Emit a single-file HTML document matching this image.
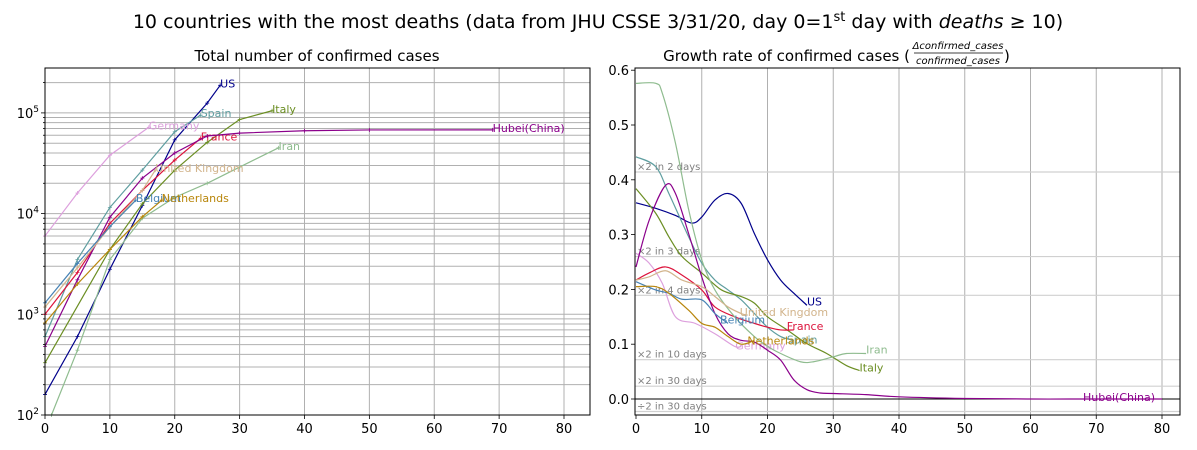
<!DOCTYPE html>
<html><head><meta charset="utf-8"><style>
body{margin:0;background:#fff;}
svg{display:block;font-family:"DejaVu Sans","Liberation Sans",sans-serif;}
</style></head><body>
<svg id="chart" width="1197" height="450" viewBox="0 0 1197 450" xmlns="http://www.w3.org/2000/svg">
<rect width="1197" height="450" fill="#fff"/>
<text x="598" y="28" font-size="19" text-anchor="middle">10 countries with the most deaths (data from JHU CSSE 3/31/20, day 0=1<tspan dy="-7" font-size="13">st</tspan><tspan dy="7"> day with </tspan><tspan font-style="italic">deaths</tspan> ≥ 10)</text>
<text x="317" y="61" font-size="15" text-anchor="middle">Total number of confirmed cases</text>
<g>
<text x="910" y="61" font-size="15" text-anchor="end">Growth rate of confirmed cases (</text>
<text x="958" y="49" font-size="10" font-style="italic" text-anchor="middle">Δconfirmed_cases</text>
<line x1="914" y1="53" x2="1003" y2="53" stroke="#000" stroke-width="0.8"/>
<text x="958" y="64" font-size="10" font-style="italic" text-anchor="middle">confirmed_cases</text>
<text x="1004" y="61" font-size="15">)</text>
</g>
<g id="left"></g>
<g id="right"></g>
</svg>
<script>
const countries = ["US","Spain","Italy","Germany","France","Hubei(China)","Iran","United Kingdom","Belgium","Netherlands"];
const colors = ["#00008b","#5f9ea0","#6b8e23","#dda0dd","#dc143c","#8b008b","#8fbc8f","#d2b48c","#4682b4","#b8860b"];
const caseDays = [
 [0,5,10,15,20,25,27],
 [0,5,10,15,20,24],
 [0,10,15,20,25,30,35],
 [0,5,10,16],
 [0,5,10,15,20,24],
 [0,5,10,15,20,25,30,40,50,69],
 [1,5,10,15,20,25,30,36],
 [0,5,10,15,17],
 [0,5,10,14],
 [0,5,10,15,18]
];
const caseValues = [
 [160,600,2800,12000,54000,125000,188000],
 [600,3500,11500,27000,65000,95000],
 [330,4400,12500,27000,51000,86000,105000],
 [6000,16000,38000,72000],
 [1000,2600,8000,17000,34000,56000],
 [480,2200,9200,22500,40000,59000,63000,66500,67700,67800],
 [100,440,3500,9000,14500,20000,29000,45000],
 [1180,2900,7400,17000,27000],
 [1300,3200,7400,13600],
 [820,2000,4400,9300,13600]
];
const rateDays = [
 [0,3,6,8.5,10,12,14,16,18,20,22,24,26],
 [0,3,5,8,10,12,14,16,18,20,22,24],
 [0,3,5,7,10,13,16,18,20,23,26,29,32,34],
 [0,2,4,6,9,12,15,16],
 [0,2,4.5,7,10,12,15,18,20,22,24],
 [0,2,4.5,6,8,10,12,14,16,18,20,22,24,26,28,30,35,40,50,60,70,80],
 [0,3,4,6,8,10,12,15,18,20,22,25,27,30,32,35],
 [0,2,4.5,7,10,12,14,16,17],
 [0,3,5,7,10,12,14],
 [0,3,5,8,10,12,14,16,18]
];
const rateValues = [
 [0.358,0.348,0.335,0.321,0.332,0.363,0.375,0.357,0.302,0.254,0.217,0.193,0.171],
 [0.442,0.424,0.375,0.296,0.248,0.217,0.199,0.181,0.156,0.131,0.114,0.107],
 [0.384,0.339,0.296,0.26,0.23,0.199,0.187,0.175,0.15,0.126,0.101,0.083,0.061,0.052],
 [0.266,0.248,0.211,0.15,0.138,0.119,0.096,0.096],
 [0.217,0.23,0.241,0.226,0.199,0.168,0.15,0.138,0.131,0.126,0.126],
 [0.241,0.326,0.39,0.375,0.302,0.223,0.156,0.119,0.107,0.104,0.089,0.071,0.035,0.017,0.011,0.01,0.008,0.004,0.001,0,0,0],
 [0.576,0.576,0.558,0.467,0.346,0.254,0.199,0.15,0.114,0.096,0.083,0.068,0.068,0.077,0.083,0.083],
 [0.217,0.223,0.234,0.217,0.205,0.187,0.168,0.156,0.153],
 [0.214,0.199,0.193,0.182,0.181,0.156,0.138],
 [0.205,0.205,0.193,0.162,0.138,0.131,0.114,0.10,0.107]
];
const xTicks = [0,10,20,30,40,50,60,70,80];
const rateTicks = [0,0.1,0.2,0.3,0.4,0.5,0.6];
const doublingLabels = ["×2 in 2 days","×2 in 3 days","×2 in 4 days","×2 in 10 days","×2 in 30 days","÷2 in 30 days"];
const doublingDays = [2,3,4,10,30,-30];

const NS="http://www.w3.org/2000/svg";
function mk(parent,tag,attrs,text){const e=document.createElementNS(NS,tag);for(const k in attrs)e.setAttribute(k,attrs[k]);if(text!==undefined)e.textContent=text;parent.appendChild(e);return e;}

// LEFT
const L={x0:45,x1:590,y0:68,y1:415};
const lx=d=>45+d*(564-45)/80;
const ly=v=>415-(Math.log10(v)-2)*100.7;
const left=document.getElementById('left');
for(let dec=2;dec<=5;dec++){for(let m=1;m<=9;m++){const v=m*Math.pow(10,dec);const y=ly(v);if(y<L.y0||y>L.y1)continue;
 const g=mk(left,'line',{x1:L.x0,x2:L.x1,y1:y,y2:y,stroke:'#b0b0b0','stroke-width':1});
 
 
 mk(left,'line',{x1:L.x0-(m===1?4:2),x2:L.x0,y1:y,y2:y,stroke:'#000','stroke-width':0.8});
 if(m===1){const t=mk(left,'text',{x:L.x0-6,y:y+5,'font-size':13,'text-anchor':'end'});
  
  
  t.innerHTML='10<tspan dy="-6" font-size="9">'+dec+'</tspan>';}
}}
xTicks.forEach(d=>{const x=lx(d);
 if(d>0){const g=mk(left,'line',{x1:x,x2:x,y1:L.y0,y2:L.y1,stroke:'#b0b0b0','stroke-width':1});
 
 }
 mk(left,'line',{x1:x,x2:x,y1:L.y1,y2:L.y1+4,stroke:'#000','stroke-width':0.8});
 const t=mk(left,'text',{x:x,y:L.y1+18,'font-size':13,'text-anchor':'middle'},String(d));
 
 
});
countries.forEach((c,i)=>{
 const pts=caseDays[i].map((d,j)=>[lx(d),ly(caseValues[i][j])]);
 const p=mk(left,'polyline',{points:pts.map(p=>p.join(',')).join(' '),fill:'none',stroke:colors[i],'stroke-width':1.2});
 
 
 pts.forEach(q=>{mk(left,'path',{d:`M${q[0]-2},${q[1]}h4M${q[0]},${q[1]-2}v4`,stroke:colors[i],'stroke-width':0.8});});
 const last=pts[pts.length-1];
 const t=mk(left,'text',{x:last[0],y:last[1]+2,'font-size':11,fill:colors[i]},c);
 
 
});
mk(left,'rect',{x:L.x0,y:L.y0,width:L.x1-L.x0,height:L.y1-L.y0,fill:'none',stroke:'#000','stroke-width':1});

// RIGHT
const R={x0:635,x1:1180,y0:68,y1:415};
const rx=d=>636+d*(1162-636)/80;
const ry=v=>399-v*548;
const right=document.getElementById('right');
xTicks.forEach(d=>{const x=rx(d);
 if(d>0){const g=mk(right,'line',{x1:x,x2:x,y1:R.y0,y2:R.y1,stroke:'#b0b0b0','stroke-width':1});
 
 }
 mk(right,'line',{x1:x,x2:x,y1:R.y1,y2:R.y1+4,stroke:'#000','stroke-width':0.8});
 const t=mk(right,'text',{x:x,y:R.y1+18,'font-size':13,'text-anchor':'middle'},String(d));
 
 
});
rateTicks.forEach(v=>{const y=ry(v);
 mk(right,'line',{x1:R.x0-4,x2:R.x0,y1:y,y2:y,stroke:'#000','stroke-width':0.8});
 const t=mk(right,'text',{x:R.x0-6,y:y+5,'font-size':13,'text-anchor':'end'},v.toFixed(1));
 
 
});
doublingDays.forEach((n,i)=>{const v=n>0?Math.pow(2,1/n)-1:Math.pow(0.5,1/-n)-1;const y=ry(v);
 const g=mk(right,'line',{x1:R.x0,x2:R.x1,y1:y,y2:y,stroke:'#d0d0d0','stroke-width':1.2});
 
 
 const t=mk(right,'text',{x:R.x0+2,y:y-2,'font-size':10,fill:'#808080'},doublingLabels[i]);
 
 
});
const zl=mk(right,'line',{x1:R.x0,x2:R.x1,y1:ry(0),y2:ry(0),stroke:'#000','stroke-width':1});


function smooth(pts){let d=`M${pts[0][0]},${pts[0][1]}`;for(let i=0;i<pts.length-1;i++){const p0=pts[Math.max(0,i-1)],p1=pts[i],p2=pts[i+1],p3=pts[Math.min(pts.length-1,i+2)];
 d+=`C${p1[0]+(p2[0]-p0[0])/6},${p1[1]+(p2[1]-p0[1])/6} ${p2[0]-(p3[0]-p1[0])/6},${p2[1]-(p3[1]-p1[1])/6} ${p2[0]},${p2[1]}`;}return d;}
const labOff={"United Kingdom":[-8,1],"Belgium":[-8,0],"Netherlands":[-7,4],"Spain":[-7,3],"Germany":[-6,3],"Hubei(China)":[-79,2],"Iran":[0,0],"Italy":[0,1],"US":[0,0],"France":[-7,0]};
countries.forEach((c,i)=>{
 const pts=rateDays[i].map((d,j)=>[rx(d),ry(rateValues[i][j])]);
 const p=mk(right,'path',{d:smooth(pts),fill:'none',stroke:colors[i],'stroke-width':1.2});
 
 
 const last=pts[pts.length-1];const o=labOff[c];
 const t=mk(right,'text',{x:last[0]+o[0],y:last[1]+o[1],'font-size':11,fill:colors[i]},c);
 
 
});
mk(right,'rect',{x:R.x0,y:R.y0,width:R.x1-R.x0,height:R.y1-R.y0,fill:'none',stroke:'#000','stroke-width':1});
</script>
</body></html>
